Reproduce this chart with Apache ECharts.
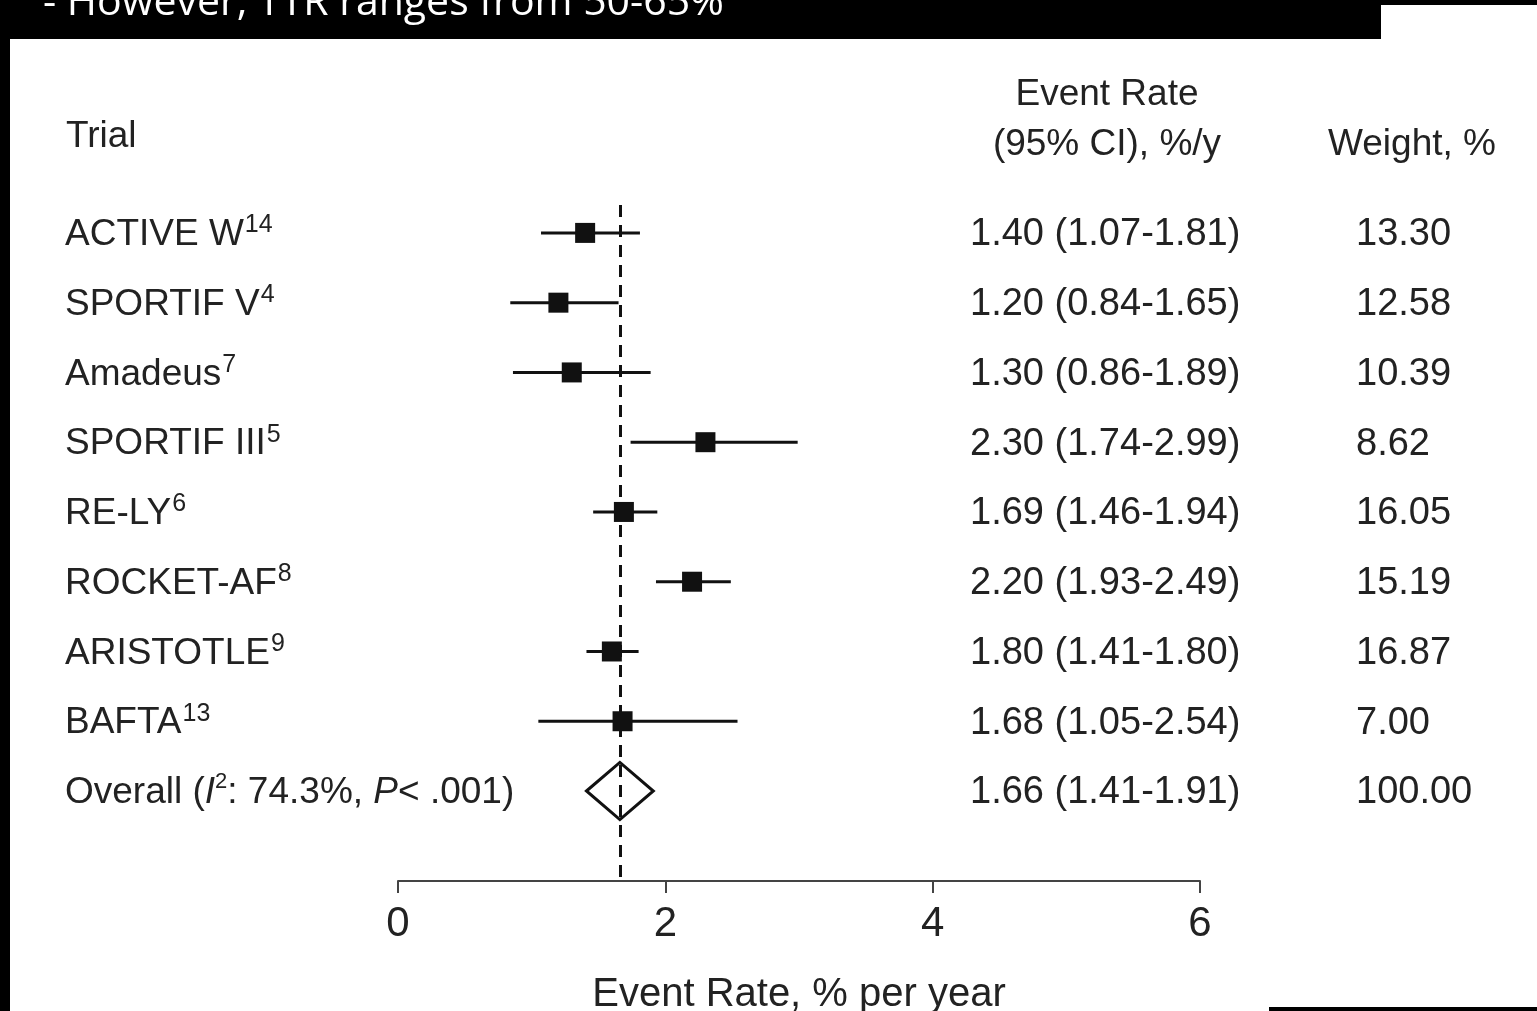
<!DOCTYPE html>
<html>
<head>
<meta charset="utf-8">
<script src="https://cdn.jsdelivr.net/npm/echarts@6/dist/echarts.min.js"></script>
<style>
html,body{margin:0;padding:0;background:#fff;}
#c{width:1537px;height:1011px;}
</style>
</head>
<body>
<div id="c"></div>
<script>
// ---- data ----
const trials = ['ACTIVE W', 'SPORTIF V', 'Amadeus', 'SPORTIF III', 'RE-LY', 'ROCKET-AF', 'ARISTOTLE', 'BAFTA'];
const refs = ['14', '4', '7', '5', '6', '8', '9', '13'];
const estimates = [1.40, 1.20, 1.30, 2.30, 1.69, 2.20, 1.60, 1.68];
const lower = [1.07, 0.84, 0.86, 1.74, 1.46, 1.93, 1.41, 1.05];
const upper = [1.81, 1.65, 1.89, 2.99, 1.94, 2.49, 1.80, 2.54];
const rateLabels = ['1.40 (1.07-1.81)', '1.20 (0.84-1.65)', '1.30 (0.86-1.89)', '2.30 (1.74-2.99)',
  '1.69 (1.46-1.94)', '2.20 (1.93-2.49)', '1.80 (1.41-1.80)', '1.68 (1.05-2.54)', '1.66 (1.41-1.91)'];
const weights = ['13.30', '12.58', '10.39', '8.62', '16.05', '15.19', '16.87', '7.00', '100.00'];
const overallEstimate = [1.66];
const overallLower = [1.41];
const overallUpper = [1.91];
const xTicks = [0, 2, 4, 6];
const headerTitle = '- However, TTR ranges from 50-65%';

// ---- styling ----
const FONT = '"Liberation Sans", Arial, sans-serif';
const TXT = '#222';
const INK = '#111';

const chart = echarts.init(document.getElementById('c'), null, {renderer: 'canvas'});

const rowLabel = function (v) {
  const i = Math.round(v);
  if (i < trials.length) return '{n|' + trials[i] + '}{s|' + refs[i] + '}';
  return '{n|Overall (}{i|I}{s2|2}{n|: 74.3%, }{i|P}{n|< .001)}';
};

const option = {
  animation: false,
  backgroundColor: '#fff',
  grid: {left: 398, right: 337, top: 205, bottom: 130, containLabel: false, outerBoundsMode: 'none'},
  xAxis: {
    type: 'value', min: 0, max: 6, interval: 2,
    axisLine: {show: true, onZero: false, lineStyle: {color: '#444', width: 2}},
    axisTick: {show: true, inside: false, length: 12, lineStyle: {color: '#444', width: 2}, customValues: xTicks},
    axisLabel: {show: true, customValues: xTicks, fontSize: 42, fontFamily: FONT, color: TXT, margin: 22},
    splitLine: {show: false},
    name: 'Event Rate, % per year', nameLocation: 'middle', nameGap: 94,
    nameTextStyle: {fontSize: 40, fontFamily: FONT, color: TXT}
  },
  yAxis: {
    type: 'value', inverse: true, min: -0.4, max: 9.29,
    axisLine: {show: false}, axisTick: {show: false}, splitLine: {show: false},
    axisLabel: {
      show: true, customValues: trials.map((_, i) => i).concat([trials.length]),
      align: 'left', margin: 333, formatter: rowLabel,
      rich: {
        n: {fontSize: 37, fontFamily: FONT, color: TXT, lineHeight: 40, padding: [4, 0, 0, 0]},
        i: {fontSize: 37, fontFamily: FONT, color: TXT, fontStyle: 'italic', lineHeight: 40, padding: [4, 0, 0, 0]},
        s: {fontSize: 25, fontFamily: FONT, color: TXT, verticalAlign: 'top', lineHeight: 40, padding: [0, 0, 0, 1]},
        s2: {fontSize: 22, fontFamily: FONT, color: TXT, verticalAlign: 'top', lineHeight: 40}
      }
    }
  },
  series: [
    {
      type: 'custom', name: 'ref', z: 1, clip: false,
      data: overallEstimate.map(v => [v, 0]),
      renderItem: function () { return {type: 'group', children: []}; },
      markLine: {
        silent: true, symbol: 'none', label: {show: false},
        lineStyle: {color: INK, width: 3, type: [12, 8]},
        data: [{xAxis: overallEstimate[0]}]
      }
    },
    {
      type: 'custom', name: 'trials', z: 3,
      data: estimates.map((v, i) => [v, i, lower[i], upper[i]]),
      encode: {x: 0, y: 1},
      renderItem: function (params, api) {
        const y = api.value(1);
        const c = api.coord([api.value(0), y]);
        const a = api.coord([api.value(2), y]);
        const b = api.coord([api.value(3), y]);
        const s = 20;
        return {
          type: 'group',
          children: [
            {type: 'line', shape: {x1: a[0], y1: a[1], x2: b[0], y2: b[1]}, style: {stroke: INK, lineWidth: 3}},
            {type: 'rect', shape: {x: c[0] - s / 2, y: c[1] - s / 2, width: s, height: s}, style: {fill: INK}}
          ]
        };
      }
    },
    {
      type: 'custom', name: 'overall', z: 3,
      data: overallEstimate.map((v, i) => [v, trials.length, overallLower[i], overallUpper[i]]),
      encode: {x: 0, y: 1},
      renderItem: function (params, api) {
        const y = api.value(1);
        const a = api.coord([api.value(2), y]);
        const b = api.coord([api.value(3), y]);
        const t = api.coord([api.value(0), y - 0.41]);
        const d = api.coord([api.value(0), y + 0.41]);
        return {
          type: 'polygon',
          shape: {points: [[a[0], a[1]], [t[0], t[1]], [b[0], b[1]], [d[0], d[1]]]},
          style: {fill: 'none', stroke: INK, lineWidth: 3, lineJoin: 'miter'}
        };
      }
    },
    {
      type: 'custom', name: 'table', z: 4, clip: false,
      data: rateLabels.map((t, i) => [0, i]),
      encode: {x: 0, y: 1},
      renderItem: function (params, api) {
        const i = api.value(1);
        const yy = api.coord([0, i])[1] + 2;
        return {
          type: 'group',
          children: [
            {type: 'text', x: 970, y: yy, style: {text: rateLabels[i], fontSize: 38, fontFamily: FONT, fill: TXT, align: 'left', verticalAlign: 'middle'}},
            {type: 'text', x: 1356, y: yy, style: {text: weights[i], fontSize: 38, fontFamily: FONT, fill: TXT, align: 'left', verticalAlign: 'middle'}}
          ]
        };
      }
    }
  ],
  graphic: [
    {type: 'rect', shape: {x: 0, y: 0, width: 1381, height: 39}, style: {fill: '#000'}, z: 10},
    {type: 'rect', shape: {x: 0, y: 0, width: 1537, height: 5}, style: {fill: '#000'}, z: 10},
    {type: 'rect', shape: {x: 0, y: 0, width: 10, height: 1011}, style: {fill: '#000'}, z: 10},
    {type: 'rect', shape: {x: 1269, y: 1007, width: 268, height: 4}, style: {fill: '#000'}, z: 10},
    {type: 'text', x: 43, y: 24, z: 11, style: {text: headerTitle, fontSize: 41, fontFamily: '"Open Sans", sans-serif', fill: '#fff', align: 'left', verticalAlign: 'bottom'}},
    {type: 'text', x: 66, y: 137, style: {text: 'Trial', fontSize: 37, fontFamily: FONT, fill: TXT, align: 'left', verticalAlign: 'middle'}},
    {type: 'text', x: 1107, y: 95, style: {text: 'Event Rate', fontSize: 37, fontFamily: FONT, fill: TXT, align: 'center', verticalAlign: 'middle'}},
    {type: 'text', x: 1107, y: 145, style: {text: '(95% CI), %/y', fontSize: 37, fontFamily: FONT, fill: TXT, align: 'center', verticalAlign: 'middle'}},
    {type: 'text', x: 1328, y: 145, style: {text: 'Weight, %', fontSize: 37, fontFamily: FONT, fill: TXT, align: 'left', verticalAlign: 'middle'}}
  ]
};
chart.setOption(option);
</script>
</body>
</html>
